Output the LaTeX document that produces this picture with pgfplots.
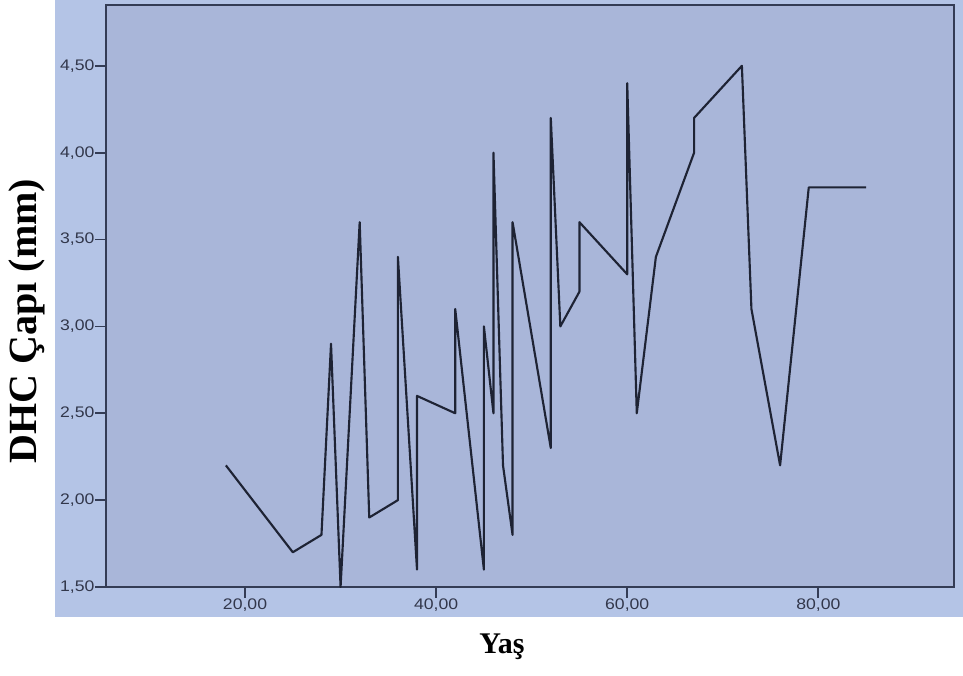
\documentclass[border=0pt]{standalone}
\usepackage{fontspec}
\setmainfont{Liberation Serif}
\newfontfamily\tickfont[FakeStretch=1.15]{Liberation Sans}
\usepackage{pgfplots}
\pgfplotsset{compat=1.18}
\usetikzlibrary{calc,backgrounds}
\definecolor{panel}{RGB}{180,196,230}
\definecolor{inner}{RGB}{169,182,217}
\definecolor{framec}{RGB}{52,60,85}
\definecolor{tickc}{RGB}{50,55,75}
\definecolor{linec}{RGB}{30,35,52}
\pgfplotstableread{
x y
18 2.2
25 1.7
28 1.8
29 2.9
30 1.5
32 3.6
33 1.9
36 2.0
36 3.4
38 1.6
38 2.6
42 2.5
42 3.1
45 1.6
45 3.0
46 2.5
46 4.0
47 2.2
48 1.8
48 3.6
52 2.3
52 4.2
53 3.0
55 3.2
55 3.6
60 3.3
60 4.4
61 2.5
63 3.4
67 4.0
67 4.2
72 4.5
73 3.1
76 2.2
79 3.8
85 3.8
}\datatable
\begin{document}
\begin{tikzpicture}[x=0.75pt,y=0.75pt]
\begin{axis}[
  name=ax,
  width=636pt, height=436.5pt, scale only axis,
  xmin=5.45, xmax=94.2, ymin=1.5, ymax=4.85,
  axis background/.style={fill=inner},
  axis line style={framec, line width=1.3pt},
  xtick={20,40,60,80}, ytick={1.5,2,2.5,3,3.5,4,4.5},
  xtick pos=bottom, ytick pos=left,
  tick align=outside, major tick length=8pt,
  tick style={framec, line width=1.3pt},
  xticklabel style={inner sep=1pt},
  yticklabel style={inner sep=0.5pt},
  tick label style={font=\tickfont\fontsize{11.5}{11.5}\selectfont, color=tickc},
  /pgf/number format/fixed,
  /pgf/number format/fixed zerofill,
  /pgf/number format/precision=2,
  /pgf/number format/use comma,
  /pgf/number format/assume math mode=true,
  clip=true,
]
\addplot[linec, line width=1.6pt, line join=round, mark=none] table[x=x,y=y] {\datatable};
\coordinate (SW) at (rel axis cs:0,0);
\end{axis}
\coordinate (O) at ($(SW)+(-106,-88)$);
\begin{scope}[shift={(O)}]
\begin{pgfonlayer}{background}
\fill[panel] (55,58) rectangle (963,675);
\end{pgfonlayer}
\node[rotate=90, font=\bfseries\fontsize{30}{30}\selectfont] at (27,354) {DHC Çapı (mm)};
\node[font=\bfseries\fontsize{22.5}{22.5}\selectfont] at (502,28) {Yaş};
\pgfresetboundingbox
\path[use as bounding box] (0,0) rectangle (963,675);
\end{scope}
\end{tikzpicture}
\end{document}
